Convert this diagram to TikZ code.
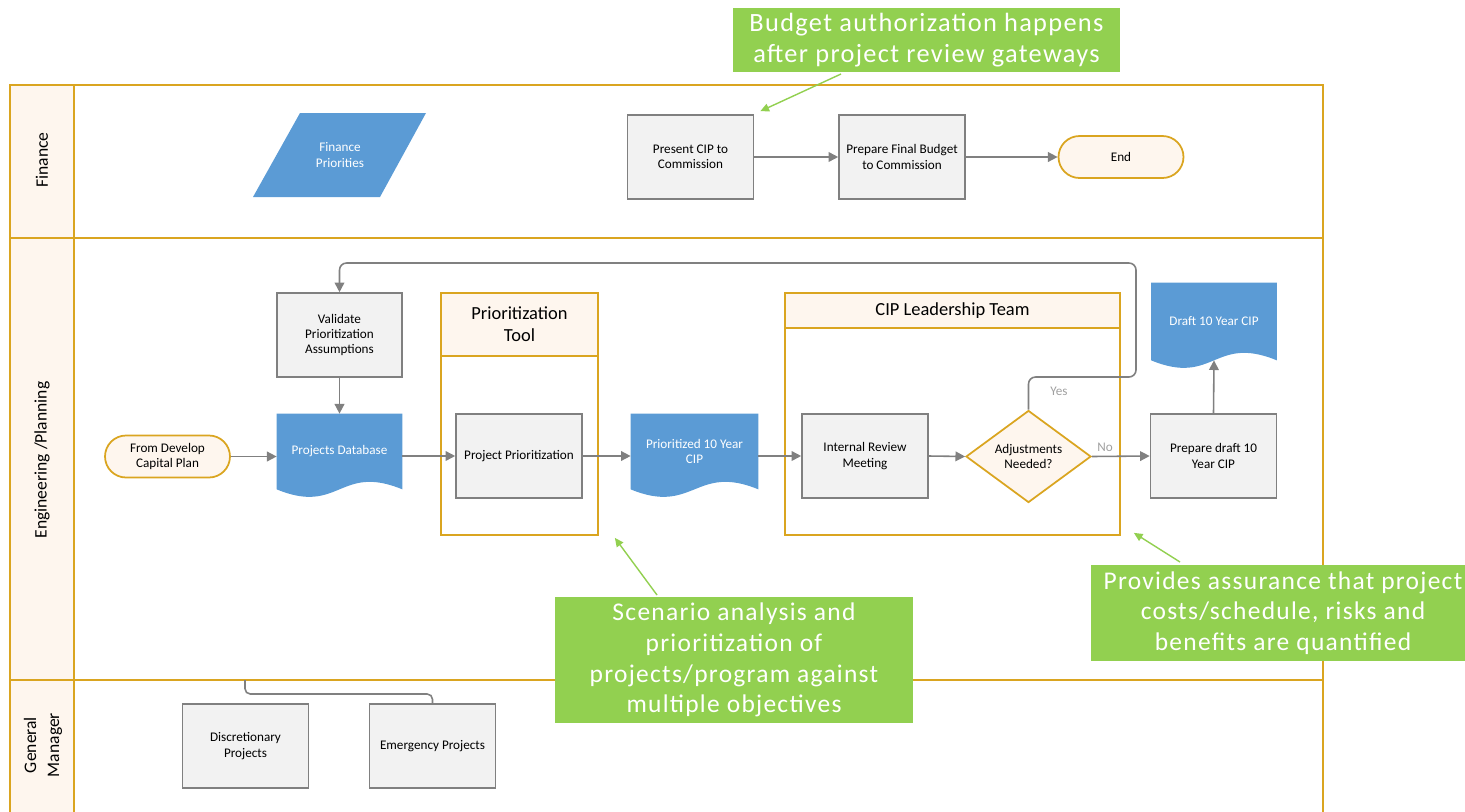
\documentclass[tikz,border=0pt]{standalone}
\usepackage{fontspec}
\setmainfont{Carlito}
\newfontfamily\notefont[LetterSpace=5]{Carlito}
\usetikzlibrary{shapes.geometric,arrows.meta}

\definecolor{lanegold}{RGB}{218,165,32}
\definecolor{lanecream}{RGB}{254,246,238}
\definecolor{docblue}{RGB}{91,155,213}
\definecolor{boxgray}{RGB}{242,242,242}
\definecolor{edgegray}{RGB}{128,128,128}
\definecolor{notegreen}{RGB}{146,208,80}
\definecolor{labelgray}{RGB}{160,160,160}

\pgfdeclarelayer{background}
\pgfsetlayers{background,main}

\tikzset{
 procbox/.style={draw=edgegray, fill=boxgray, line width=0.9pt, minimum width=2.52cm, minimum height=1.68cm, inner sep=1pt, align=center, font=\fontsize{7.5}{8.7}\selectfont},
 termbox/.style={draw=lanegold, fill=lanecream, line width=1pt, rounded corners=0.42cm, minimum width=2.5cm, minimum height=0.84cm, inner sep=1pt, align=center, font=\fontsize{7.5}{8.7}\selectfont},
 decision/.style={diamond, draw=lanegold, fill=lanecream, line width=1pt, minimum width=2.5cm, minimum height=1.66cm, inner sep=0pt, align=center, font=\fontsize{7.5}{8.7}\selectfont},
 docnode/.style={minimum width=2.5cm, minimum height=1.5cm, inner sep=1pt, align=center, text=white, font=\fontsize{7.5}{8.7}\selectfont},
 flow/.style={draw=edgegray, line width=0.9pt, -{Triangle[length=5.5pt,width=5.5pt]}},
 flowlabel/.style={text=labelgray, font=\fontsize{7.5}{8.7}\selectfont},
 note/.style={draw=notegreen, line width=0.8pt, -{Triangle[length=5pt,width=4.5pt]}},
 callout/.style={fill=notegreen, text=white, align=center, inner sep=0pt, font=\notefont\fontsize{14.5}{17.5}\selectfont},
 lanelabel/.style={rotate=90, align=center, font=\fontsize{10}{13}\selectfont},
 grouphead/.style={draw=lanegold, fill=lanecream, line width=1pt, align=center, font=\fontsize{10.5}{12.5}\selectfont},
 groupbox/.style={draw=lanegold, line width=1pt},
 laneline/.style={draw=lanegold, line width=1.1pt},
}

\newcommand{\docwave}[1]{\fill[docblue] (#1.north west) -- (#1.north east) -- (#1.south east) .. controls +(-63,-26) and +(63,26) .. (#1.south west) -- cycle;}

\begin{document}
\begin{tikzpicture}[x=0.02cm, y=-0.02cm]
 \useasboundingbox (0,0) rectangle (1465,812);
 \clip (0,0) rectangle (1465,812);

 % lanes
 \draw[laneline, fill=lanecream] (10,85) rectangle (74,830);
 \draw[laneline] (10,85) rectangle (1323,830);
 \draw[laneline] (10,238) -- (1323,238);
 \draw[laneline] (10,680) -- (1323,680);
 \node[lanelabel] (finlane) at (42,160) {Finance};
 \node[lanelabel] (englane) at (42,460) {Engineering /Planning};
 \node[lanelabel] (gmlane) at (43,745) {General\\Manager};

 % finance
 \fill[docblue] (300,113) -- (426,113) -- (380,197) -- (253,197) -- cycle;
 \node[docnode] (finprio) at (340,155) {Finance\\Priorities};
 \node[procbox] (present) at (690.5,157) {Present CIP to\\Commission};
 \node[procbox] (final) at (902,157) {Prepare Final Budget\\to Commission};
 \node[termbox] (end) at (1121,157) {End};
 \draw[flow] (present) -- (final);
 \draw[flow] (final) -- (end);

 % engineering / planning
 \node[groupbox, minimum width=3.14cm, minimum height=4.84cm] (ptool) at (519.5,414) {};
 \node[grouphead, minimum width=3.14cm, minimum height=1.26cm] (ptoolhead) at (519.5,324.5) {Prioritization\\Tool};
 \node[groupbox, minimum width=6.7cm, minimum height=4.84cm] (cipteam) at (952.5,414) {};
 \node[grouphead, minimum width=6.7cm, minimum height=0.7cm] (cipteamhead) at (952.5,310.5) {CIP Leadership Team};

 \node[termbox] (start) at (167.5,456.5) {From Develop\\Capital Plan};
 \node[procbox, minimum width=2.5cm] (valid) at (339.5,335) {Validate\\Prioritization\\Assumptions};
 \node[docnode] (db) at (339.5,451.5) {Projects Database};
 \node[procbox] (pp) at (519,456) {Project Prioritization};
 \node[docnode, minimum width=2.54cm] (pcip) at (694.5,451.5) {Prioritized 10 Year\\CIP};
 \node[procbox] (irm) at (865,456) {Internal Review\\Meeting};
 \node[decision] (adj) at (1028.5,456.5) {Adjustments\\Needed?};
 \node[procbox] (prep) at (1213.5,456) {Prepare draft 10\\Year CIP};
 \node[docnode, minimum height=1.54cm] (draft) at (1214,321.5) {Draft 10 Year CIP};
 \begin{pgfonlayer}{background}
  \docwave{db}
  \docwave{pcip}
  \docwave{draft}
 \end{pgfonlayer}

 \coordinate (yesbend) at (1136,377);
 \coordinate (yestop) at (1136,263);
 \draw[flow] (start.east) -- (start.east -| db.west);
 \draw[flow] (valid.south) -- (db.north);
 \draw[flow] (pp.west -| db.east) -- (pp.west);
 \draw[flow] (pp.east) -- (pp.east -| pcip.west);
 \draw[flow] (irm.west -| pcip.east) -- (irm.west);
 \draw[flow] (irm.east) -- (adj.west);
 \draw[flow] (adj.east) -- (prep.west);
 \draw[flow, rounded corners=4pt] (adj.north) |- (yesbend) -- (yestop) -| (valid.north);
 \draw[flow] (prep.north) -- (draft.south);
 \node[flowlabel] (yeslabel) at (1059,391) {Yes};
 \node[flowlabel] (nolabel) at (1105,447) {No};

 % general manager
 \node[procbox] (disc) at (245.5,746) {Discretionary\\Projects};
 \node[procbox] (emerg) at (432.5,746) {Emergency Projects};
 \coordinate (gmtap) at (245,680);
 \draw[edgegray, line width=0.9pt, rounded corners=3pt] (gmtap) -- ++(0,14) -| (emerg.north);

 % callouts
 \node[callout, minimum width=7.74cm, minimum height=1.28cm, font=\notefont\fontsize{15}{18}\selectfont] (budgetnote) at (926.5,40) {Budget authorization happens\\after project review gateways};
 \node[callout, minimum width=7.16cm, minimum height=2.52cm] (scennote) at (734,660) {Scenario analysis and\\prioritization of\\projects/program against\\multiple objectives};
 \node[callout, minimum width=7.68cm, minimum height=1.92cm] (assurenote) at (1283,613) {Provides assurance that project\\costs/schedule, risks and\\benefits are quantified};
 \coordinate (budgettail) at (841,74);
 \coordinate (scentail) at (657,595);
 \coordinate (assuretail) at (1180,562);
 \draw[note] (budgettail) -- ([shift={(6,-3)}]present.north east);
 \draw[note] (scentail) -- ([shift={(16,2)}]ptool.south east);
 \draw[note] (assuretail) -- ([shift={(13,-3)}]cipteam.south east);
\end{tikzpicture}
\end{document}
